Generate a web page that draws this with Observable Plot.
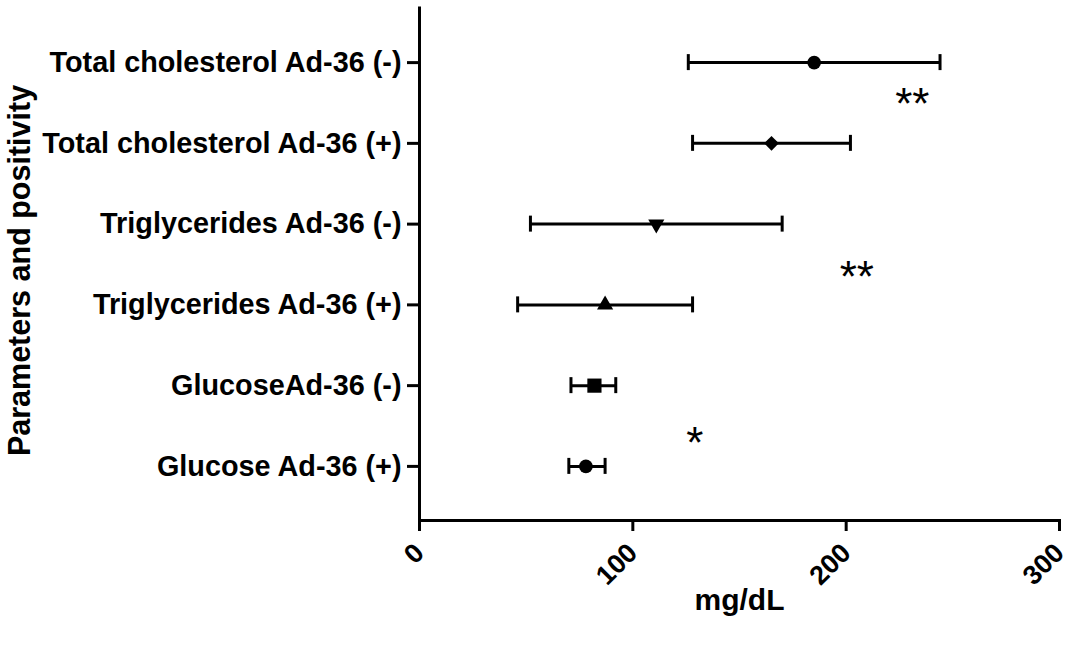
<!DOCTYPE html>
<html>
<head>
<meta charset="utf-8">
<script src="https://cdn.jsdelivr.net/npm/d3@7"></script>
<script src="https://cdn.jsdelivr.net/npm/@observablehq/plot@0.6"></script>
<style>
  html, body { margin: 0; padding: 0; background: #fff; }
  #chart { width: 1068px; height: 648px; }
</style>
</head>
<body>
<div id="chart"></div>
<script>
// Categories, top to bottom
const categories = [
  "Total cholesterol Ad-36 (-)",
  "Total cholesterol Ad-36 (+)",
  "Triglycerides Ad-36 (-)",
  "Triglycerides Ad-36 (+)",
  "GlucoseAd-36 (-)",
  "Glucose Ad-36 (+)"
];
// Mean values and error-bar ends (mg/dL)
const means = [185, 165, 111, 87, 82, 78];
const lows  = [126, 128, 52, 46, 71, 70];
const highs = [244, 202, 170, 128, 92, 87];
// Marker shapes
const symbols   = ["circle", "diamond2", "triangle", "triangle", "square", "circle"];
const rotations = [0, 0, 180, 0, 0, 0];
const markerR   = [6.8, 6.6, 6.0, 6.0, 8.0, 6.8];
// x axis ticks
const xTicks = [0, 100, 200, 300];
// Significance annotations (x in mg/dL, y in row units between rows)
const annotText = ["**", "**", "*"];
const annotX = [231, 205, 129];
const annotY = [0.52, 2.66, 4.72];

const rows = categories.map((c, i) => ({
  i, name: c, mean: means[i], low: lows[i], high: highs[i],
  sym: symbols[i], rot: rotations[i], r: markerR[i]
}));
const annots = annotText.map((t, k) => ({t, x: annotX[k], y: annotY[k]}));

const font = "'Liberation Sans', Arial, Helvetica, sans-serif";

const chart = Plot.plot({
  width: 1068,
  height: 648,
  marginTop: 8,
  marginBottom: 128,
  marginLeft: 419,
  marginRight: 9,
  style: {fontFamily: font, background: "#fff", color: "#000", overflow: "visible"},
  x: {domain: [0, 300]},
  y: {domain: [-0.67, 5.67], reverse: true},
  marks: [
    // axes
    Plot.axisY({
      ticks: rows.map(d => d.i),
      tickFormat: i => categories[i],
      tickSize: 12, tickPadding: 6,
      fontSize: 28.8, fontWeight: "bold",
      strokeWidth: 3, label: null
    }),
    Plot.axisX({
      ticks: xTicks,
      tickSize: 11, tickPadding: 17, tickRotate: -45,
      fontSize: 27, fontWeight: "bold",
      strokeWidth: 3, label: null
    }),
    Plot.ruleX([0], {strokeWidth: 3, strokeLinecap: "square"}),
    Plot.frame({anchor: "bottom", strokeWidth: 3, strokeLinecap: "square"}),
    // error bars
    Plot.ruleY(rows, {y: "i", x1: "low", x2: "high", strokeWidth: 3}),
    Plot.ruleX(rows, {x: "low", y1: "i", y2: "i", insetTop: -8, insetBottom: -8, strokeWidth: 3}),
    Plot.ruleX(rows, {x: "high", y1: "i", y2: "i", insetTop: -8, insetBottom: -8, strokeWidth: 3}),
    // markers
    ...rows.map(d => Plot.dot([d], {x: "mean", y: "i", symbol: d.sym, rotate: d.rot, r: d.r, fill: "#000", stroke: "none"})),
    // annotations
    Plot.text(annots, {x: "x", y: "y", text: "t", fontSize: 44, fill: "#000"}),
    // axis titles
    Plot.text(["Parameters and positivity"], {frameAnchor: "left", textAnchor: "middle", dx: -399, dy: 6, rotate: -90, fontSize: 30.5, fontWeight: "bold", fill: "#000"}),
    Plot.text(["mg/dL"], {frameAnchor: "bottom", dy: 89, fontSize: 30, fontWeight: "bold", fill: "#000"})
  ]
});
document.getElementById("chart").appendChild(chart);
</script>
</body>
</html>
